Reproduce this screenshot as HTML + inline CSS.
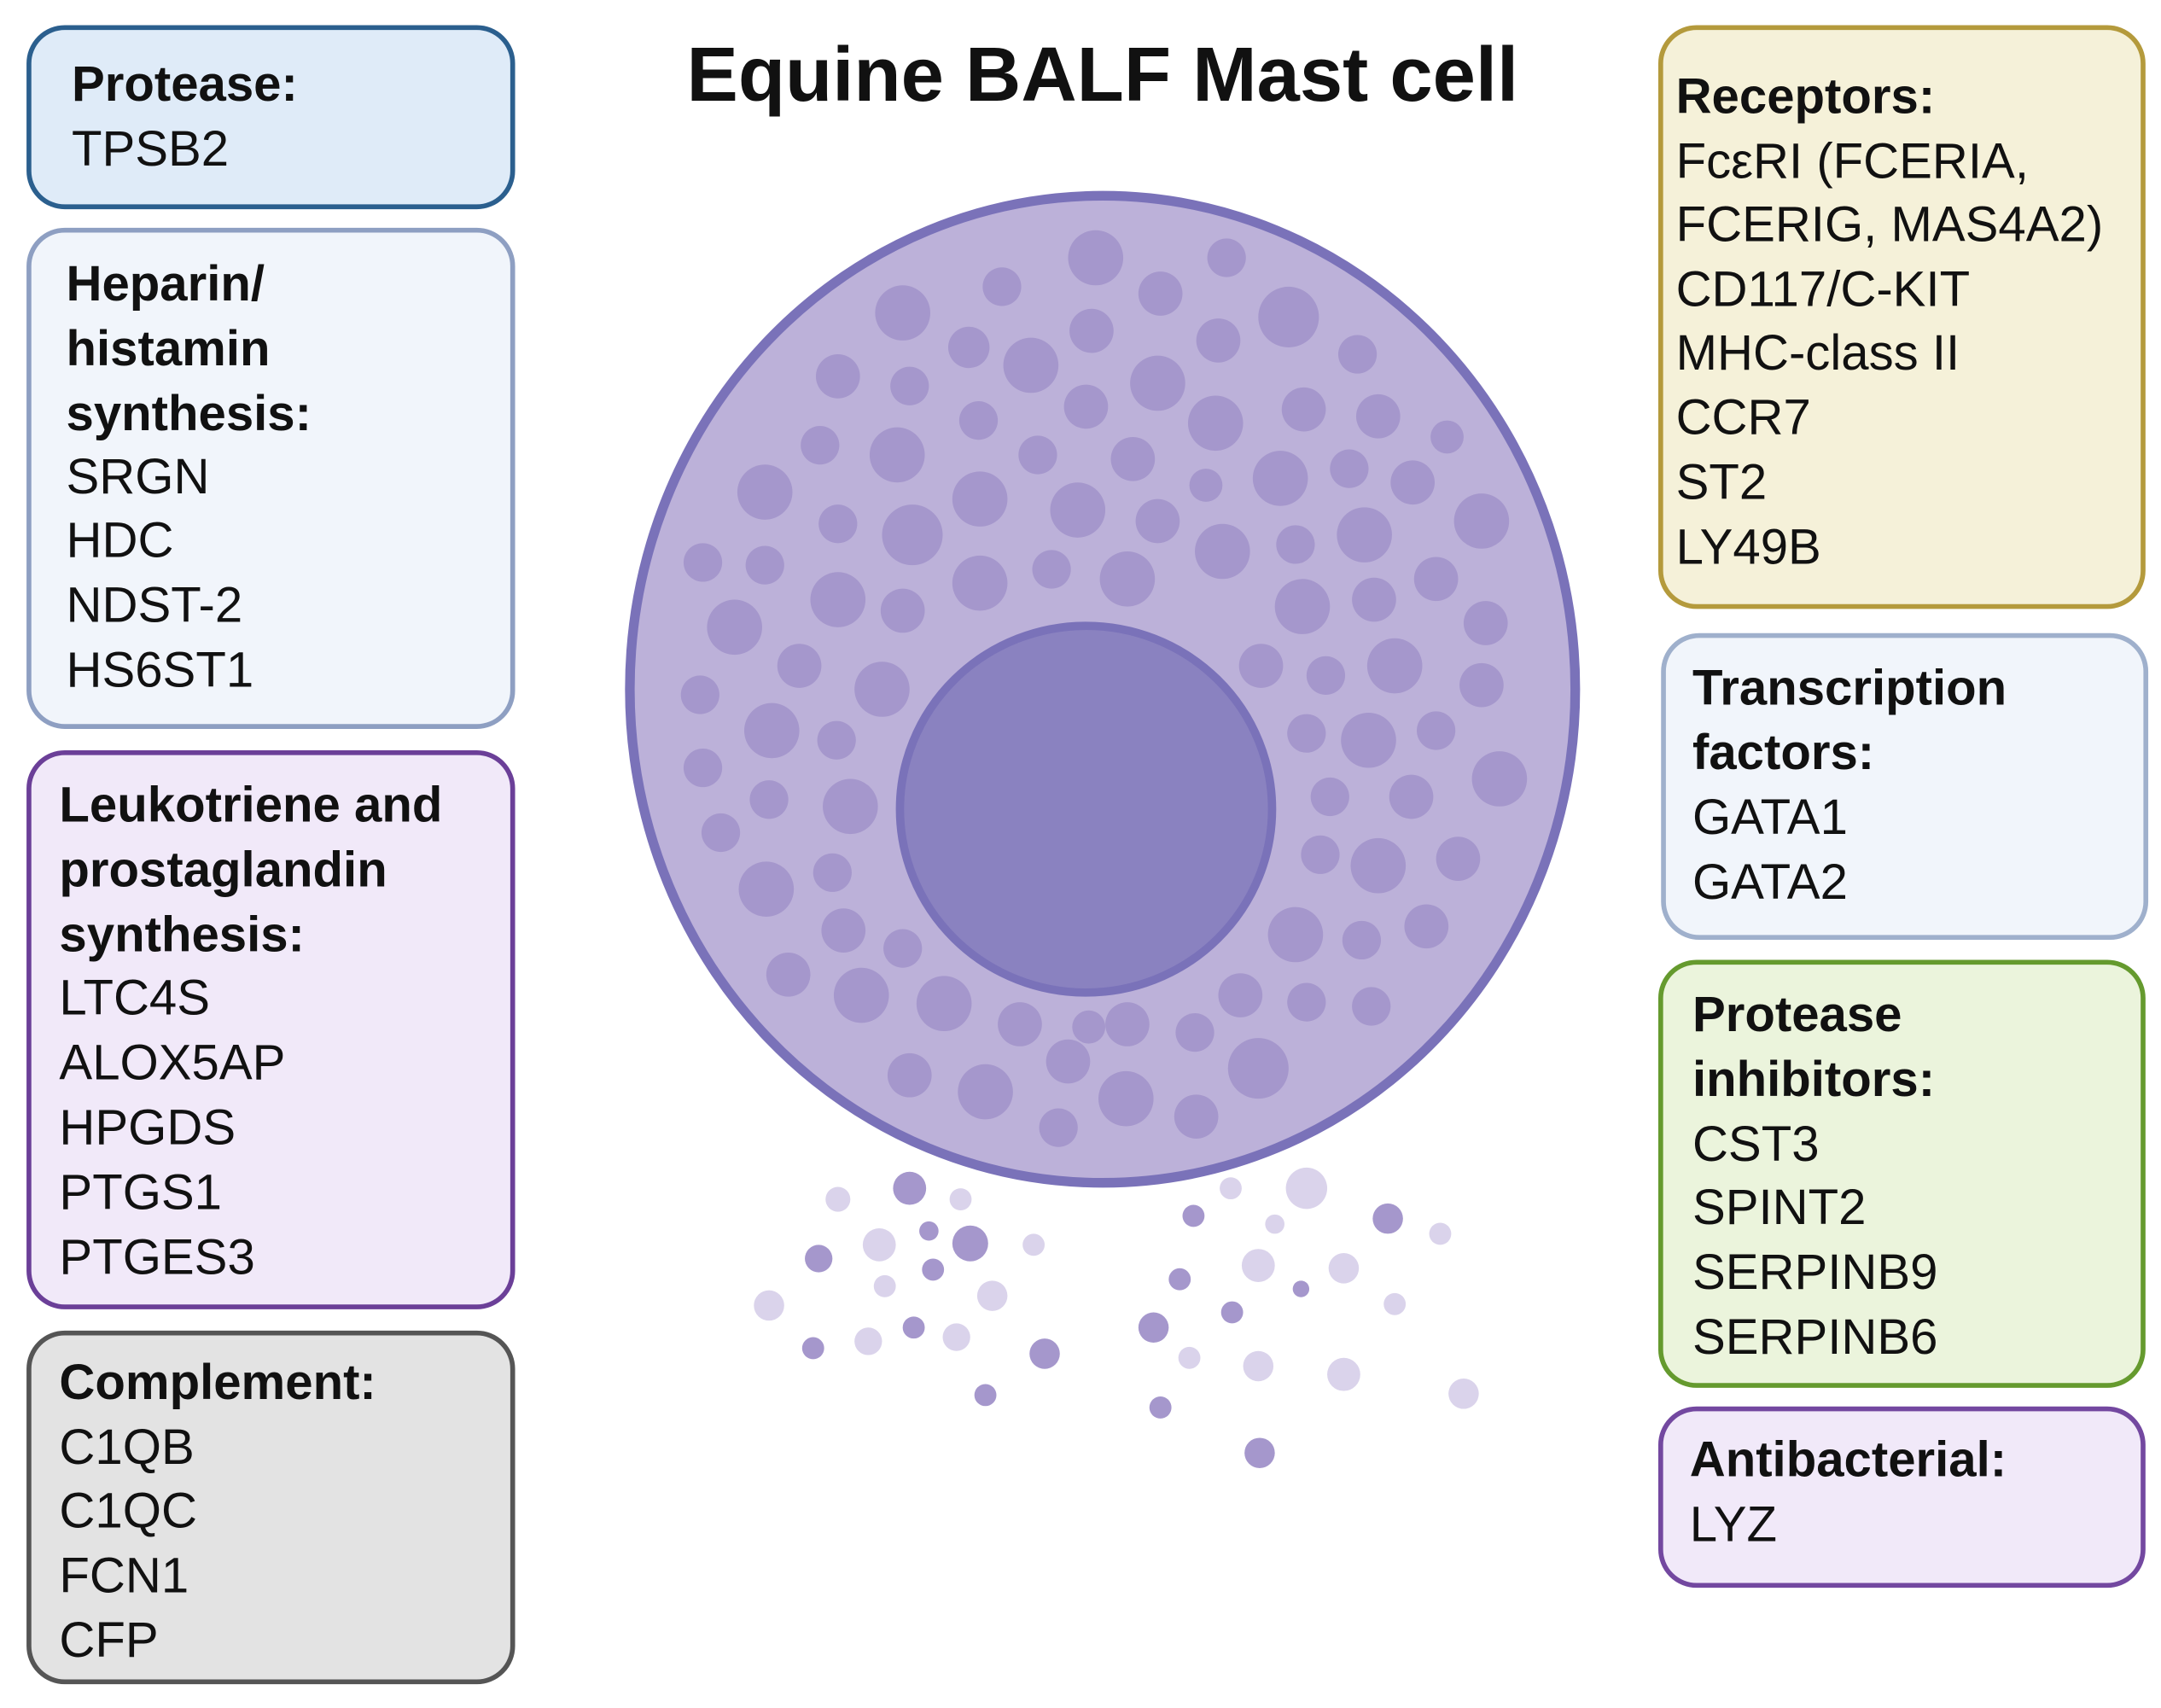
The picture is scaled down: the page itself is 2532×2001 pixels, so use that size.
<!DOCTYPE html>
<html><head><meta charset="utf-8"><style>html,body{margin:0;padding:0;background:#fff}svg{display:block}</style></head>
<body>
<svg width="2532" height="2001" viewBox="0 0 1568 1239" preserveAspectRatio="none" xmlns="http://www.w3.org/2000/svg" font-family="Liberation Sans, sans-serif">
<rect width="1568" height="1239" fill="#fff"/>
<g stroke-width="3.5">
<rect x="21" y="20" width="351" height="130" rx="26" fill="#dfebf8" stroke="#2b5f8e"/>
<rect x="21" y="167" width="351" height="360" rx="26" fill="#f1f5fb" stroke="#8e9fc2"/>
<rect x="21" y="546" width="351" height="402" rx="26" fill="#f1e9f9" stroke="#6b3f98"/>
<rect x="21" y="967" width="351" height="253" rx="26" fill="#e3e3e3" stroke="#555"/>
<rect x="1205" y="20" width="350" height="420" rx="26" fill="#f5f1d9" stroke="#b49a3c"/>
<rect x="1207" y="461" width="350" height="219" rx="26" fill="#f1f5fb" stroke="#9fb0cc"/>
<rect x="1205" y="698" width="350" height="307" rx="26" fill="#ebf4dc" stroke="#659a2e"/>
<rect x="1205" y="1022" width="350" height="128" rx="26" fill="#f1e9f9" stroke="#7348a0"/>
</g>
<text x="800" y="73" text-anchor="middle" font-size="56" font-weight="bold" fill="#111">Equine BALF Mast cell</text>
<g font-size="36" fill="#111">
<text x="52" y="73" font-weight="bold">Protease:</text>
<text x="52" y="120">TPSB2</text>
<text x="48" y="218" font-weight="bold">Heparin/</text>
<text x="48" y="265" font-weight="bold">histamin</text>
<text x="48" y="312" font-weight="bold">synthesis:</text>
<text x="48" y="358">SRGN</text><text x="48" y="404">HDC</text><text x="48" y="451">NDST-2</text><text x="48" y="498">HS6ST1</text>
<text x="43" y="596" font-weight="bold">Leukotriene and</text>
<text x="43" y="643" font-weight="bold">prostaglandin</text>
<text x="43" y="690" font-weight="bold">synthesis:</text>
<text x="43" y="736">LTC4S</text><text x="43" y="783">ALOX5AP</text><text x="43" y="830">HPGDS</text><text x="43" y="877">PTGS1</text><text x="43" y="924">PTGES3</text>
<text x="43" y="1015" font-weight="bold">Complement:</text>
<text x="43" y="1062">C1QB</text><text x="43" y="1108">C1QC</text><text x="43" y="1155">FCN1</text><text x="43" y="1202">CFP</text>
<text x="1216" y="82" font-weight="bold">Receptors:</text>
<text x="1216" y="129">FcεRI (FCERIA,</text><text x="1216" y="175">FCERIG, MAS4A2)</text><text x="1216" y="222">CD117/C-KIT</text><text x="1216" y="268">MHC-class II</text><text x="1216" y="315">CCR7</text><text x="1216" y="362">ST2</text><text x="1216" y="409">LY49B</text>
<text x="1228" y="511" font-weight="bold">Transcription</text>
<text x="1228" y="558" font-weight="bold">factors:</text>
<text x="1228" y="605">GATA1</text><text x="1228" y="652">GATA2</text>
<text x="1228" y="748" font-weight="bold">Protease</text>
<text x="1228" y="795" font-weight="bold">inhibitors:</text>
<text x="1228" y="842">CST3</text><text x="1228" y="888">SPINT2</text><text x="1228" y="935">SERPINB9</text><text x="1228" y="982">SERPINB6</text>
<text x="1226" y="1071" font-weight="bold">Antibacterial:</text>
<text x="1226" y="1118">LYZ</text>
</g>
<ellipse cx="800" cy="500" rx="343" ry="358" fill="#bcb1d9" stroke="#7a72b9" stroke-width="7"/>
<g fill="#a597cc">
<circle cx="795" cy="187" r="20"/><circle cx="727" cy="208" r="14"/><circle cx="842" cy="213" r="16"/><circle cx="890" cy="187" r="14"/><circle cx="655" cy="227" r="20"/><circle cx="935" cy="230" r="22"/><circle cx="703" cy="252" r="15"/><circle cx="748" cy="265" r="20"/><circle cx="792" cy="240" r="16"/><circle cx="840" cy="278" r="20"/><circle cx="884" cy="247" r="16"/><circle cx="985" cy="257" r="14"/><circle cx="608" cy="273" r="16"/><circle cx="660" cy="280" r="14"/><circle cx="710" cy="305" r="14"/><circle cx="788" cy="295" r="16"/><circle cx="882" cy="307" r="20"/><circle cx="946" cy="297" r="16"/><circle cx="1000" cy="302" r="16"/><circle cx="1050" cy="317" r="12"/><circle cx="595" cy="323" r="14"/><circle cx="651" cy="330" r="20"/><circle cx="753" cy="330" r="14"/><circle cx="822" cy="333" r="16"/><circle cx="875" cy="352" r="12"/><circle cx="929" cy="347" r="20"/><circle cx="979" cy="340" r="14"/><circle cx="1025" cy="350" r="16"/><circle cx="555" cy="357" r="20"/><circle cx="608" cy="380" r="14"/><circle cx="662" cy="388" r="22"/><circle cx="711" cy="362" r="20"/><circle cx="782" cy="370" r="20"/><circle cx="840" cy="378" r="16"/><circle cx="887" cy="400" r="20"/><circle cx="940" cy="395" r="14"/><circle cx="990" cy="388" r="20"/><circle cx="1075" cy="378" r="20"/><circle cx="510" cy="408" r="14"/><circle cx="555" cy="410" r="14"/><circle cx="608" cy="435" r="20"/><circle cx="655" cy="443" r="16"/><circle cx="711" cy="423" r="20"/><circle cx="763" cy="413" r="14"/><circle cx="818" cy="420" r="20"/><circle cx="945" cy="440" r="20"/><circle cx="997" cy="435" r="16"/><circle cx="1042" cy="420" r="16"/><circle cx="533" cy="455" r="20"/><circle cx="580" cy="483" r="16"/><circle cx="640" cy="500" r="20"/><circle cx="915" cy="483" r="16"/><circle cx="962" cy="490" r="14"/><circle cx="1012" cy="483" r="20"/><circle cx="1078" cy="452" r="16"/><circle cx="508" cy="504" r="14"/><circle cx="560" cy="530" r="20"/><circle cx="607" cy="537" r="14"/><circle cx="948" cy="532" r="14"/><circle cx="993" cy="537" r="20"/><circle cx="1042" cy="530" r="14"/><circle cx="1075" cy="497" r="16"/><circle cx="510" cy="557" r="14"/><circle cx="558" cy="580" r="14"/><circle cx="617" cy="585" r="20"/><circle cx="965" cy="578" r="14"/><circle cx="1024" cy="578" r="16"/><circle cx="1088" cy="565" r="20"/><circle cx="523" cy="604" r="14"/><circle cx="604" cy="633" r="14"/><circle cx="958" cy="620" r="14"/><circle cx="1000" cy="628" r="20"/><circle cx="1058" cy="623" r="16"/><circle cx="556" cy="645" r="20"/><circle cx="612" cy="675" r="16"/><circle cx="655" cy="688" r="14"/><circle cx="940" cy="678" r="20"/><circle cx="988" cy="682" r="14"/><circle cx="1035" cy="672" r="16"/><circle cx="572" cy="707" r="16"/><circle cx="625" cy="722" r="20"/><circle cx="685" cy="728" r="20"/><circle cx="740" cy="743" r="16"/><circle cx="790" cy="745" r="12"/><circle cx="818" cy="743" r="16"/><circle cx="867" cy="749" r="14"/><circle cx="900" cy="722" r="16"/><circle cx="948" cy="727" r="14"/><circle cx="995" cy="730" r="14"/><circle cx="660" cy="780" r="16"/><circle cx="715" cy="792" r="20"/><circle cx="775" cy="770" r="16"/><circle cx="817" cy="797" r="20"/><circle cx="868" cy="810" r="16"/><circle cx="913" cy="775" r="22"/><circle cx="768" cy="818" r="14"/>
</g>
<ellipse cx="788" cy="587" rx="135" ry="133" fill="#8a82c0" stroke="#7a72b9" stroke-width="6"/>
<g fill="#a597cc">
<circle cx="660" cy="862" r="12"/><circle cx="866" cy="882" r="8"/><circle cx="704" cy="902" r="13"/><circle cx="674" cy="893" r="7"/><circle cx="594" cy="913" r="10"/><circle cx="1007" cy="884" r="11"/><circle cx="677" cy="921" r="8"/><circle cx="856" cy="928" r="8"/><circle cx="944" cy="935" r="6"/><circle cx="894" cy="952" r="8"/><circle cx="663" cy="963" r="8"/><circle cx="837" cy="963" r="11"/><circle cx="590" cy="978" r="8"/><circle cx="758" cy="982" r="11"/><circle cx="715" cy="1012" r="8"/><circle cx="842" cy="1021" r="8"/><circle cx="914" cy="1054" r="11"/>
</g>
<g fill="#dad3eb">
<circle cx="608" cy="870" r="9"/><circle cx="697" cy="870" r="8"/><circle cx="948" cy="862" r="15"/><circle cx="893" cy="862" r="8"/><circle cx="638" cy="903" r="12"/><circle cx="750" cy="903" r="8"/><circle cx="925" cy="888" r="7"/><circle cx="1045" cy="895" r="8"/><circle cx="913" cy="918" r="12"/><circle cx="975" cy="920" r="11"/><circle cx="642" cy="933" r="8"/><circle cx="720" cy="940" r="11"/><circle cx="558" cy="947" r="11"/><circle cx="1012" cy="946" r="8"/><circle cx="694" cy="970" r="10"/><circle cx="630" cy="973" r="10"/><circle cx="863" cy="985" r="8"/><circle cx="913" cy="991" r="11"/><circle cx="975" cy="997" r="12"/><circle cx="1062" cy="1011" r="11"/>
</g>
</svg>
</body></html>
